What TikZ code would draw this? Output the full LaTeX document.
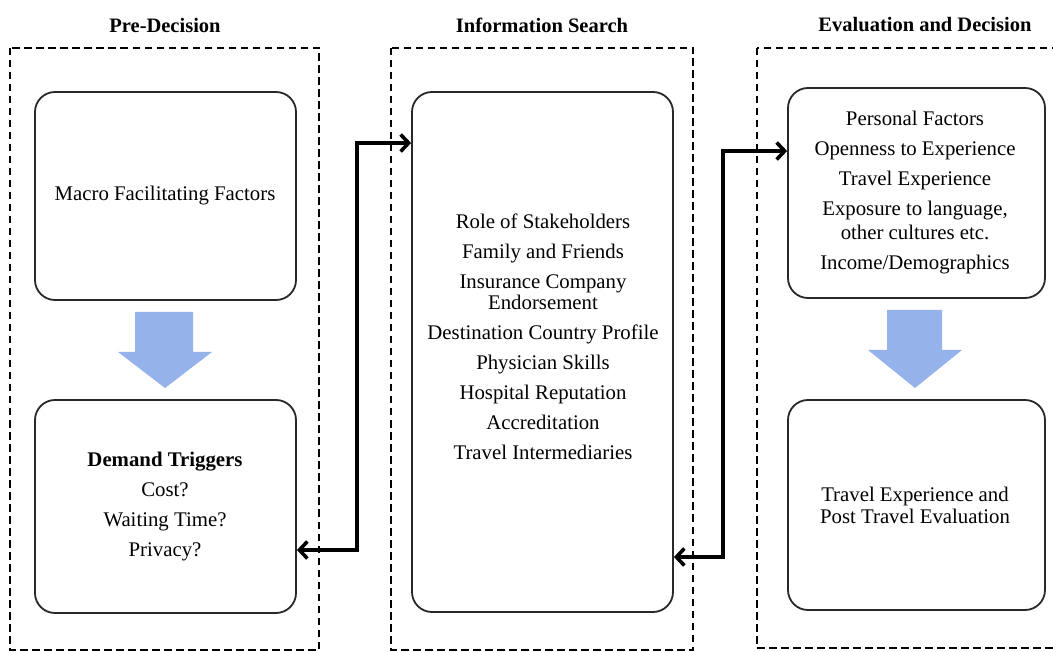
\documentclass[tikz,border=0pt]{standalone}
\usepackage{fontspec}
\setmainfont{Liberation Serif}
\usetikzlibrary{arrows.meta}
\definecolor{blockblue}{RGB}{150,178,234}
\definecolor{boxgray}{RGB}{40,40,40}
\tikzset{
  phase/.style={draw=black, line width=2.8pt, dash pattern=on 7.5pt off 4.5pt},
  stagebox/.style={draw=boxgray, line width=1.8pt, rounded corners=20pt},
  txt/.style={align=center, inner sep=0pt, font=\fontsize{20.8}{30}\selectfont},
  ttl/.style={inner sep=0pt, font=\fontsize{20.5}{24}\selectfont\bfseries},
  conn/.style={draw=black, line width=3.6pt, {Straight Barb[length=8pt,width=17pt]}-{Straight Barb[length=8pt,width=17pt]}},
  blockarrow/.style={fill=blockblue, draw=none}
}
\begin{document}
\begin{tikzpicture}[x=1pt,y=-1pt]
\useasboundingbox (0,0) rectangle (1053,652);
% phase frames
\draw[phase] (10,48) rectangle (319,650);
\draw[phase] (391,48) rectangle (693,650);
\draw[phase] (757,48) rectangle (1070,648);
% titles
\node[ttl] (t1) at (165,25) {Pre-Decision};
\node[ttl] (t2) at (542,25) {Information Search};
\node[ttl] (t3) at (925,25) {Evaluation and Decision};
% stage boxes
\node[stagebox, minimum width=261pt, minimum height=208pt] (lt) at (165.5,196) {};
\node[stagebox, minimum width=261pt, minimum height=213pt] (lb) at (165.5,506.5) {};
\node[stagebox, minimum width=261pt, minimum height=520pt] (mid) at (542.5,352) {};
\node[stagebox, minimum width=257pt, minimum height=210pt] (rt) at (916.5,193) {};
\node[stagebox, minimum width=257pt, minimum height=210pt] (rb) at (916.5,505) {};
% texts
\node[txt] (ltx) at (165,196) {Macro Facilitating Factors};
\node[txt] (lbx) at (165,507) {\textbf{Demand Triggers}\\Cost?\\Waiting Time?\\Privacy?};
\node[txt] (midx) at (543,337) {Role of Stakeholders\\Family and Friends\\Insurance Company\\[-9pt]Endorsement\\Destination Country Profile\\Physician Skills\\Hospital Reputation\\Accreditation\\Travel Intermediaries};
\node[txt] (rtx) at (915,193) {Personal Factors\\Openness to Experience\\Travel Experience\\Exposure to language,\\[-6pt]other cultures etc.\\Income/Demographics};
\node[txt] (rbx) at (915,505) {Travel Experience and\\[-8pt]Post Travel Evaluation};
% block arrows
\path[blockarrow] (135,312) -- (193,312) -- (193,352) -- (212,352) -- (165,388) -- (118,352) -- (135,352) -- cycle;
\path[blockarrow] (887,310) -- (942,310) -- (942,350) -- (962,350) -- (915,388) -- (868,350) -- (887,350) -- cycle;
% connectors
\coordinate (c1) at (357,550);
\coordinate (c2) at (723,557);
\draw[conn] (lb.east |- c1) -- (c1) |- (mid.west |- 0,143);
\draw[conn] (mid.east |- c2) -- (c2) |- (rt.west |- 0,151);
\end{tikzpicture}
\end{document}
